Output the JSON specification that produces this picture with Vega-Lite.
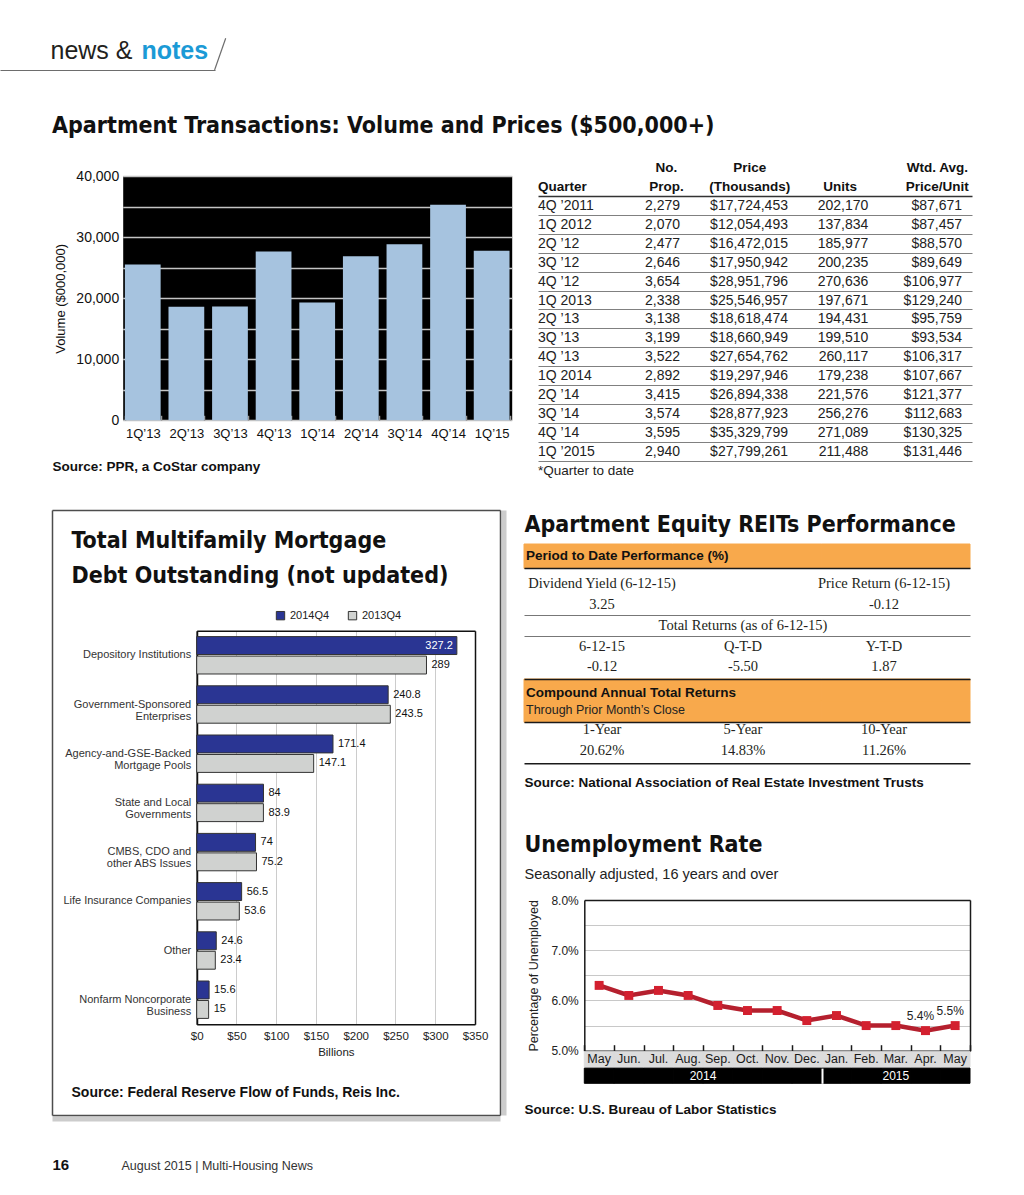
{
"$schema": "https://vega.github.io/schema/vega-lite/v6.json",
"width": 1024,
"height": 1195,
"autosize": {"type": "none"},
"padding": 0,
"background": "#ffffff",
"config": {
  "view": {"stroke": null},
  "font": "Liberation Sans",
  "text": {"font": "Liberation Sans"},
  "axis": {"labelFont": "Liberation Sans", "titleFont": "Liberation Sans", "grid": false, "labelFlush": false},
  "legend": {"labelFont": "Liberation Sans"},
  "title": {"font": "Liberation Sans"}
},
"title": {"text": "Apartment Transactions: Volume and Prices ($500,000+)", "anchor": "start", "frame": "group", "dx": 52, "offset": -156, "baseline": "alphabetic",
          "font": "DejaVu Sans Condensed, sans-serif", "fontSize": 23, "fontWeight": "bold", "color": "#111111"},
"datasets": {
  "one": [{"k": "a"}],
  "bar": [
    {"q": "1Q’13", "v": 25547}, {"q": "2Q’13", "v": 18618}, {"q": "3Q’13", "v": 18661},
    {"q": "4Q’13", "v": 27655}, {"q": "1Q’14", "v": 19298}, {"q": "2Q’14", "v": 26894},
    {"q": "3Q’14", "v": 28878}, {"q": "4Q’14", "v": 35330}, {"q": "1Q’15", "v": 27799}
  ],
  "tbl": [
    {"q": "4Q ’2011", "p": 2279, "pr": 17724453, "u": 202170, "w": 87671},
    {"q": "1Q 2012", "p": 2070, "pr": 12054493, "u": 137834, "w": 87457},
    {"q": "2Q ’12", "p": 2477, "pr": 16472015, "u": 185977, "w": 88570},
    {"q": "3Q ’12", "p": 2646, "pr": 17950942, "u": 200235, "w": 89649},
    {"q": "4Q ’12", "p": 3654, "pr": 28951796, "u": 270636, "w": 106977},
    {"q": "1Q 2013", "p": 2338, "pr": 25546957, "u": 197671, "w": 129240},
    {"q": "2Q ’13", "p": 3138, "pr": 18618474, "u": 194431, "w": 95759},
    {"q": "3Q ’13", "p": 3199, "pr": 18660949, "u": 199510, "w": 93534},
    {"q": "4Q ’13", "p": 3522, "pr": 27654762, "u": 260117, "w": 106317},
    {"q": "1Q 2014", "p": 2892, "pr": 19297946, "u": 179238, "w": 107667},
    {"q": "2Q ’14", "p": 3415, "pr": 26894338, "u": 221576, "w": 121377},
    {"q": "3Q ’14", "p": 3574, "pr": 28877923, "u": 256276, "w": 112683},
    {"q": "4Q ’14", "p": 3595, "pr": 35329799, "u": 271089, "w": 130325},
    {"q": "1Q ’2015", "p": 2940, "pr": 27799261, "u": 211488, "w": 131446}
  ],
  "tblh": [
    {"q": "h2", "c": "q", "t": "Quarter"},
    {"q": "h1", "c": "p", "t": "No."}, {"q": "h2", "c": "p", "t": "Prop."},
    {"q": "h1", "c": "pr", "t": "Price"}, {"q": "h2", "c": "pr", "t": "(Thousands)"},
    {"q": "h2", "c": "u", "t": "Units"},
    {"q": "h1", "c": "w", "t": "Wtd. Avg."}, {"q": "h2", "c": "w", "t": "Price/Unit"},
    {"q": "foot", "c": "q", "t": "*Quarter to date"}
  ],
  "mg": [
    {"cat": "Depository Institutions", "yr": "2014Q4", "v": 327.2},
    {"cat": "Depository Institutions", "yr": "2013Q4", "v": 289},
    {"cat": "Government-Sponsored|Enterprises", "yr": "2014Q4", "v": 240.8},
    {"cat": "Government-Sponsored|Enterprises", "yr": "2013Q4", "v": 243.5},
    {"cat": "Agency-and-GSE-Backed|Mortgage Pools", "yr": "2014Q4", "v": 171.4},
    {"cat": "Agency-and-GSE-Backed|Mortgage Pools", "yr": "2013Q4", "v": 147.1},
    {"cat": "State and Local|Governments", "yr": "2014Q4", "v": 84},
    {"cat": "State and Local|Governments", "yr": "2013Q4", "v": 83.9},
    {"cat": "CMBS, CDO and|other ABS Issues", "yr": "2014Q4", "v": 74},
    {"cat": "CMBS, CDO and|other ABS Issues", "yr": "2013Q4", "v": 75.2},
    {"cat": "Life Insurance Companies", "yr": "2014Q4", "v": 56.5},
    {"cat": "Life Insurance Companies", "yr": "2013Q4", "v": 53.6},
    {"cat": "Other", "yr": "2014Q4", "v": 24.6},
    {"cat": "Other", "yr": "2013Q4", "v": 23.4},
    {"cat": "Nonfarm Noncorporate|Business", "yr": "2014Q4", "v": 15.6},
    {"cat": "Nonfarm Noncorporate|Business", "yr": "2013Q4", "v": 15}
  ],
  "reits": [
    {"r": "h1", "c": "L", "k": "o1"}, {"r": "h1", "c": "M", "k": "o1"}, {"r": "h1", "c": "R", "k": "o1"},
    {"r": "a", "c": "L", "k": "o2"}, {"r": "a", "c": "M", "k": "o2"}, {"r": "a", "c": "R", "k": "o2"},
    {"r": "b", "c": "L", "k": "o2"}, {"r": "b", "c": "M", "k": "o2"}, {"r": "b", "c": "R", "k": "o2"},
    {"r": "h1", "c": "L", "k": "o1t", "t": "Period to Date Performance (%)"},
    {"r": "a", "c": "L", "k": "o2b", "t": "Compound Annual Total Returns"},
    {"r": "b", "c": "L", "k": "o2r", "t": "Through Prior Month’s Close"},
    {"r": "r1", "c": "L", "k": "s", "t": "Dividend Yield (6-12-15)"},
    {"r": "r1", "c": "R", "k": "s", "t": "Price Return (6-12-15)"},
    {"r": "r2", "c": "L", "k": "s", "t": "3.25"},
    {"r": "r2", "c": "R", "k": "s", "t": "-0.12"},
    {"r": "r3", "c": "M", "k": "s", "t": "Total Returns (as of 6-12-15)"},
    {"r": "r4", "c": "L", "k": "s", "t": "6-12-15"},
    {"r": "r4", "c": "M", "k": "s", "t": "Q-T-D"},
    {"r": "r4", "c": "R", "k": "s", "t": "Y-T-D"},
    {"r": "r5", "c": "L", "k": "s", "t": "-0.12"},
    {"r": "r5", "c": "M", "k": "s", "t": "-5.50"},
    {"r": "r5", "c": "R", "k": "s", "t": "1.87"},
    {"r": "r6", "c": "L", "k": "s", "t": "1-Year"},
    {"r": "r6", "c": "M", "k": "s", "t": "5-Year"},
    {"r": "r6", "c": "R", "k": "s", "t": "10-Year"},
    {"r": "r7", "c": "L", "k": "s", "t": "20.62%"},
    {"r": "r7", "c": "M", "k": "s", "t": "14.83%"},
    {"r": "r7", "c": "R", "k": "s", "t": "11.26%"}
  ],
  "unemp": [
    {"m": "2014-05", "lab": "May", "v": 0.063},
    {"m": "2014-06", "lab": "Jun.", "v": 0.061},
    {"m": "2014-07", "lab": "Jul.", "v": 0.062},
    {"m": "2014-08", "lab": "Aug.", "v": 0.061},
    {"m": "2014-09", "lab": "Sep.", "v": 0.059},
    {"m": "2014-10", "lab": "Oct.", "v": 0.058},
    {"m": "2014-11", "lab": "Nov.", "v": 0.058},
    {"m": "2014-12", "lab": "Dec.", "v": 0.056},
    {"m": "2015-01", "lab": "Jan.", "v": 0.057},
    {"m": "2015-02", "lab": "Feb.", "v": 0.055},
    {"m": "2015-03", "lab": "Mar.", "v": 0.055},
    {"m": "2015-04", "lab": "Apr.", "v": 0.054},
    {"m": "2015-05", "lab": "May", "v": 0.055}
  ]
},
"layer": [
  {"data": {"name": "one"},
   "mark": {"type": "text", "text": ""},
   "encoding": {
     "x": {"field": "k", "type": "nominal", "scale": {"type": "band", "range": [0, 215]},
           "axis": {"orient": "bottom", "offset": -1125, "labels": false, "ticks": false, "domain": true, "domainColor": "#6d6d6d", "domainWidth": 1.2,
                    "title": "news &", "titleX": 50, "titleY": -12, "titleAlign": "left", "titleAnchor": "start", "titleBaseline": "alphabetic",
                    "titleFontSize": 25, "titleFontWeight": "normal", "titleColor": "#231f20"}},
     "y": {"field": "k", "type": "nominal", "scale": {"type": "band", "range": [40, 70]},
           "axis": {"orient": "left", "offset": 0, "labels": false, "ticks": false, "domain": false,
                    "title": "notes", "titleAngle": 0, "titleX": 141, "titleY": 58, "titleAlign": "left", "titleAnchor": "start", "titleBaseline": "alphabetic",
                    "titleFontSize": 25, "titleFontWeight": "bold", "titleColor": "#1b9ad6"}}
   }},

  {"data": {"name": "one"},
   "mark": {"type": "rule", "color": "#6d6d6d", "strokeWidth": 1.2},
   "encoding": {
     "x": {"datum": 0, "type": "quantitative", "scale": {"domain": [0, 1], "range": [214.6, 225.7], "nice": false, "zero": false}, "axis": null},
     "y": {"datum": 0, "type": "quantitative", "scale": {"domain": [0, 1], "range": [70, 38.3], "nice": false, "zero": false}, "axis": null},
     "x2": {"datum": 1},
     "y2": {"datum": 1}
   }},

  {"data": {"name": "bar"},
   "layer": [
     {"mark": {"type": "bar", "opacity": 0},
      "encoding": {
        "x": {"field": "q", "type": "nominal", "sort": null, "scale": {"type": "band", "range": [122.7, 511.7], "paddingInner": 0.18, "paddingOuter": 0.05}, "axis": null},
        "y": {"field": "v", "type": "quantitative", "scale": {"domain": [0, 40000], "nice": false, "zero": false, "range": [420.3, 176.3]},
              "axis": {"orient": "left", "offset": -122.7, "values": [20000], "labels": false, "ticks": false, "domain": false, "title": null,
                       "grid": true, "gridColor": "#000000", "gridWidth": 244.2, "gridCap": "butt"}}}},
     {"mark": {"type": "bar", "color": "#a6c3df"},
      "encoding": {
        "x": {"field": "q", "type": "nominal", "sort": null, "scale": {"type": "band", "range": [122.7, 511.7], "paddingInner": 0.18, "paddingOuter": 0.05},
              "axis": {"orient": "bottom", "offset": -774.7, "labelAngle": 0, "labelFontSize": 13, "labelColor": "#111111", "labelPadding": 12, "domain": false,
                       "ticks": true, "tickBand": "extent", "tickSize": -5, "tickColor": "#9a9a9a", "tickWidth": 1.5,
                       "title": "Source: PPR, a CoStar company", "titleX": 52, "titleY": 45.7, "titleAlign": "left", "titleAnchor": "start",
                       "titleBaseline": "middle", "titleFontSize": 13.5, "titleFontWeight": "bold", "titleColor": "#111111"}},
        "y": {"field": "v", "type": "quantitative", "scale": {"domain": [0, 40000], "nice": false, "zero": false, "range": [420.3, 176.3]},
              "axis": {"orient": "left", "offset": -122.7, "values": [0, 5000, 10000, 15000, 20000, 25000, 30000, 35000, 40000],
                       "labelExpr": "datum.value % 10000 == 0 ? format(datum.value, ',') : ''",
                       "labelOverlap": false, "labelFontSize": 14, "labelColor": "#111111", "labelPadding": 4,
                       "ticks": false, "domain": false, "grid": true, "gridColor": "#c4c4c4", "gridWidth": 1.5,
                       "title": "Volume ($000,000)", "titleFontSize": 13, "titleFontWeight": "normal", "titleColor": "#111111", "titlePadding": 8}}}}
   ],
   "resolve": {"axis": {"y": "independent", "x": "independent"}}},

  {"data": {"name": "tbl"},
   "encoding": {
     "y": {"field": "q", "type": "nominal",
           "scale": {"type": "band", "range": [158.6, 480.3], "paddingInner": 0, "paddingOuter": 0,
                     "domain": ["h1", "h2", "4Q ’2011", "1Q 2012", "2Q ’12", "3Q ’12", "4Q ’12", "1Q 2013", "2Q ’13", "3Q ’13", "4Q ’13", "1Q 2014", "2Q ’14", "3Q ’14", "4Q ’14", "1Q ’2015", "foot"]},
           "axis": {"orient": "left", "offset": -538, "labels": false, "ticks": false, "domain": false, "title": null, "grid": true, "bandPosition": 0,
                    "gridOpacity": {"condition": {"test": "datum.value == 'h1' || datum.value == 'h2'", "value": 0}, "value": 1},
                    "gridColor": {"condition": {"test": "datum.value == '4Q ’2011'", "value": "#333333"}, "value": "#808080"},
                    "gridWidth": {"condition": {"test": "datum.value == '4Q ’2011'", "value": 1.5}, "value": 1}}}
   },
   "layer": [
     {"mark": {"type": "text", "align": "left", "fontSize": 14, "color": "#222222"},
      "encoding": {"x": {"datum": "q", "type": "nominal", "bandPosition": 0, "axis": null, "scale": {"type": "band", "domain": ["q", "p", "pr", "u", "w"], "range": [538, 972], "paddingInner": 0, "paddingOuter": 0}},
                   "text": {"field": "q", "type": "nominal"}}},
     {"mark": {"type": "text", "align": "right", "fontSize": 14, "color": "#222222"},
      "encoding": {"x": {"datum": "p", "type": "nominal", "bandPosition": 0.636, "axis": null, "scale": {"type": "band", "domain": ["q", "p", "pr", "u", "w"], "range": [538, 972], "paddingInner": 0, "paddingOuter": 0}},
                   "text": {"field": "p", "type": "quantitative", "format": ","}}},
     {"mark": {"type": "text", "align": "right", "fontSize": 14, "color": "#222222"},
      "encoding": {"x": {"datum": "pr", "type": "nominal", "bandPosition": 0.88, "axis": null, "scale": {"type": "band", "domain": ["q", "p", "pr", "u", "w"], "range": [538, 972], "paddingInner": 0, "paddingOuter": 0}},
                   "text": {"field": "pr", "type": "quantitative", "format": "$,"}}},
     {"mark": {"type": "text", "align": "right", "fontSize": 14, "color": "#222222"},
      "encoding": {"x": {"datum": "u", "type": "nominal", "bandPosition": 0.806, "axis": null, "scale": {"type": "band", "domain": ["q", "p", "pr", "u", "w"], "range": [538, 972], "paddingInner": 0, "paddingOuter": 0}},
                   "text": {"field": "u", "type": "quantitative", "format": ","}}},
     {"mark": {"type": "text", "align": "right", "fontSize": 14, "color": "#222222"},
      "encoding": {"x": {"datum": "w", "type": "nominal", "bandPosition": 0.885, "axis": null, "scale": {"type": "band", "domain": ["q", "p", "pr", "u", "w"], "range": [538, 972], "paddingInner": 0, "paddingOuter": 0}},
                   "text": {"field": "w", "type": "quantitative", "format": "$,"}}},
     {"data": {"name": "tblh"},
      "layer": [
        {"transform": [{"filter": "datum.c == 'q' && datum.q == 'h2'"}],
         "mark": {"type": "text", "align": "left", "fontSize": 13.5, "fontWeight": "bold", "color": "#111111"},
         "encoding": {"x": {"field": "c", "type": "nominal", "bandPosition": 0, "axis": null, "scale": {"type": "band", "domain": ["q", "p", "pr", "u", "w"], "range": [538, 972], "paddingInner": 0, "paddingOuter": 0}}, "text": {"field": "t"}}},
        {"transform": [{"filter": "datum.q == 'foot'"}],
         "mark": {"type": "text", "align": "left", "fontSize": 13.5, "color": "#222222"},
         "encoding": {"x": {"field": "c", "type": "nominal", "bandPosition": 0, "axis": null, "scale": {"type": "band", "domain": ["q", "p", "pr", "u", "w"], "range": [538, 972], "paddingInner": 0, "paddingOuter": 0}}, "text": {"field": "t"}}},
        {"transform": [{"filter": "datum.c == 'p' || datum.c == 'u'"}],
         "mark": {"type": "text", "align": "center", "fontSize": 13.5, "fontWeight": "bold", "color": "#111111"},
         "encoding": {"x": {"field": "c", "type": "nominal", "bandPosition": 0.48, "axis": null, "scale": {"type": "band", "domain": ["q", "p", "pr", "u", "w"], "range": [538, 972], "paddingInner": 0, "paddingOuter": 0}}, "text": {"field": "t"}}},
        {"transform": [{"filter": "datum.c == 'pr'"}],
         "mark": {"type": "text", "align": "center", "fontSize": 13.5, "fontWeight": "bold", "color": "#111111"},
         "encoding": {"x": {"field": "c", "type": "nominal", "bandPosition": 0.44, "axis": null, "scale": {"type": "band", "domain": ["q", "p", "pr", "u", "w"], "range": [538, 972], "paddingInner": 0, "paddingOuter": 0}}, "text": {"field": "t"}}},
        {"transform": [{"filter": "datum.c == 'w'"}],
         "mark": {"type": "text", "align": "center", "fontSize": 13.5, "fontWeight": "bold", "color": "#111111"},
         "encoding": {"x": {"field": "c", "type": "nominal", "bandPosition": 0.6, "axis": null, "scale": {"type": "band", "domain": ["q", "p", "pr", "u", "w"], "range": [538, 972], "paddingInner": 0, "paddingOuter": 0}}, "text": {"field": "t"}}}
      ]}
   ]},

  {"data": {"name": "one"},
   "layer": [
     {"mark": {"type": "text", "text": ""},
      "encoding": {
        "x": {"datum": 0, "type": "quantitative", "scale": {"domain": [0, 1], "range": [52, 500], "nice": false, "zero": false},
              "axis": {"orient": "bottom", "offset": -76.5, "labels": false, "ticks": false, "grid": false, "domain": true, "domainColor": "#cccccc", "domainWidth": 5, "title": null}},
        "y": {"datum": 0, "type": "quantitative", "scale": {"domain": [0, 1], "range": [1115, 510], "nice": false, "zero": false},
              "axis": {"orient": "right", "offset": -520.5, "labels": false, "ticks": false, "grid": false, "domain": true, "domainColor": "#cccccc", "domainWidth": 5, "title": null}}}},
     {"mark": {"type": "text", "text": ""},
      "encoding": {
        "x": {"datum": 0, "type": "quantitative", "scale": {"domain": [0, 1], "range": [52, 500], "nice": false, "zero": false},
              "axis": {"orient": "bottom", "offset": -80, "labels": false, "ticks": false, "grid": false, "domain": true, "domainColor": "#4d4d4d", "domainWidth": 1.5,
                       "title": "Source: Federal Reserve Flow of Funds, Reis Inc.", "titleX": 71, "titleY": -23, "titleAlign": "left", "titleAnchor": "start",
                       "titleBaseline": "middle", "titleFontSize": 14, "titleFontWeight": "bold", "titleColor": "#111111"}},
        "y": {"datum": 0, "type": "quantitative", "scale": {"domain": [0, 1], "range": [1115, 510], "nice": false, "zero": false},
              "axis": {"orient": "left", "offset": -52, "labels": false, "ticks": false, "grid": false, "domain": true, "domainColor": "#4d4d4d", "domainWidth": 1.5,
                       "title": ["Total Multifamily Mortgage", "Debt Outstanding (not updated)"], "titleAngle": 0, "titleX": 19, "titleY": 529, "titleAlign": "left", "titleAnchor": "start",
                       "titleBaseline": "top", "titleLineHeight": 35, "titleFont": "DejaVu Sans Condensed, sans-serif", "titleFontSize": 23, "titleFontWeight": "bold", "titleColor": "#111111"}}}},
     {"mark": {"type": "text", "text": ""},
      "encoding": {
        "x": {"datum": 0, "type": "quantitative", "scale": {"domain": [0, 1], "range": [52, 500], "nice": false, "zero": false},
              "axis": {"orient": "top", "offset": -510, "labels": false, "ticks": false, "grid": false, "domain": true, "domainColor": "#4d4d4d", "domainWidth": 1.5, "title": null}},
        "y": {"datum": 0, "type": "quantitative", "scale": {"domain": [0, 1], "range": [1115, 510], "nice": false, "zero": false},
              "axis": {"orient": "right", "offset": -524, "labels": false, "ticks": false, "grid": false, "domain": true, "domainColor": "#4d4d4d", "domainWidth": 1.5, "title": null}}}}
   ],
   "resolve": {"axis": {"x": "independent", "y": "independent"}}},

  {"data": {"name": "mg"},
   "encoding": {
     "y": {"field": "cat", "type": "nominal", "sort": null,
           "scale": {"type": "band", "range": [630.7, 1024.3], "paddingInner": 0.24, "paddingOuter": 0.12},
           "axis": {"orient": "left", "offset": -196.7, "labelExpr": "split(datum.value, '|')", "labelFontSize": 11, "labelColor": "#333333", "labelPadding": 6, "labelLineHeight": 12,
                    "ticks": false, "domain": true, "domainColor": "#111111", "domainWidth": 1.5, "title": null}},
     "yOffset": {"field": "yr", "type": "nominal", "scale": {"domain": ["2014Q4", "2013Q4"], "paddingInner": 0.08}}
   },
   "layer": [
     {"mark": {"type": "bar", "stroke": "#333333", "strokeWidth": 1},
      "encoding": {
        "x": {"field": "v", "type": "quantitative", "scale": {"domain": [0, 350], "nice": false, "zero": true, "range": [196.7, 475]},
              "axis": {"orient": "bottom", "offset": -170.7, "values": [0, 50, 100, 150, 200, 250, 300, 350], "labelExpr": "'$' + datum.value", "labelOverlap": false,
                       "grid": false, "ticks": false, "domain": true, "domainColor": "#111111", "domainWidth": 1.5,
                       "labelFontSize": 11.5, "labelColor": "#222222", "labelPadding": 6,
                       "title": "Billions", "titleFontSize": 11.5, "titleFontWeight": "normal", "titleColor": "#222222", "titlePadding": 5}},
        "color": {"field": "yr", "type": "nominal",
          "scale": {"domain": ["2014Q4", "2013Q4"], "range": ["#2a3593", "#d0d2d0"]},
          "legend": {"orient": "none", "legendX": 275, "legendY": 610, "direction": "horizontal", "title": null,
                     "symbolType": "square", "symbolSize": 70, "symbolStrokeColor": "#333333", "symbolStrokeWidth": 1,
                     "labelFontSize": 11, "labelColor": "#222222", "columnPadding": 16, "labelOffset": 4}}}},
     {"transform": [{"filter": "datum.v < 300"}],
      "mark": {"type": "text", "align": "left", "dx": 5, "fontSize": 11, "color": "#111111"},
      "encoding": {"x": {"field": "v", "type": "quantitative", "scale": {"domain": [0, 350], "nice": false, "zero": true, "range": [196.7, 475]}, "axis": null},
                   "text": {"field": "v", "type": "nominal"}}},
     {"transform": [{"filter": "datum.v >= 300"}],
      "mark": {"type": "text", "align": "right", "dx": -4, "fontSize": 11, "color": "#ffffff"},
      "encoding": {"x": {"field": "v", "type": "quantitative", "scale": {"domain": [0, 350], "nice": false, "zero": true, "range": [196.7, 475]},
                         "axis": {"orient": "top", "offset": -630.7, "values": [0, 50, 100, 150, 200, 250, 300, 350], "labels": false, "ticks": false, "domain": true, "domainColor": "#111111", "domainWidth": 1.5, "title": null,
                                  "grid": true,
                                  "gridColor": {"condition": {"test": "datum.value == 350 || datum.value == 0", "value": "#111111"}, "value": "#cccccc"},
                                  "gridWidth": {"condition": {"test": "datum.value == 350 || datum.value == 0", "value": 1.5}, "value": 1}}},
                   "text": {"field": "v", "type": "nominal"}}}
   ],
   "resolve": {"axis": {"x": "independent"}}},

  {"data": {"name": "reits"},
   "layer": [
     {"transform": [{"filter": "datum.k == 'o1'"}],
      "mark": {"type": "rect", "color": "#f8a94c", "stroke": "#f8a94c", "strokeWidth": 1},
      "encoding": {
        "x": {"field": "c", "type": "nominal", "axis": null, "scale": {"type": "band", "domain": ["L", "M", "R"], "range": [524, 970], "paddingInner": 0, "paddingOuter": 0}},
        "y": {"field": "r", "type": "nominal",
              "scale": {"type": "band", "domain": ["h1", "end"], "range": [544, 593], "paddingInner": 0, "paddingOuter": 0},
              "axis": {"orient": "left", "offset": -524, "zindex": 1, "labels": false, "ticks": false, "domain": false, "grid": true, "bandPosition": 0,
                       "gridOpacity": {"condition": {"test": "datum.value == 'end'", "value": 1}, "value": 0},
                       "gridColor": "#1a1a1a", "gridWidth": 1.6,
                       "title": "Apartment Equity REITs Performance", "titleAngle": 0, "titleX": 0, "titleY": 531.7, "titleAlign": "left", "titleAnchor": "start", "titleBaseline": "alphabetic",
                       "titleFont": "DejaVu Sans Condensed, sans-serif", "titleFontSize": 23, "titleFontWeight": "bold", "titleColor": "#111111"}}}},
     {"transform": [{"filter": "datum.k == 'o1t'"}],
      "mark": {"type": "text", "align": "left", "dx": 2, "fontSize": 13.5, "fontWeight": "bold", "color": "#111111"},
      "encoding": {
        "x": {"field": "c", "type": "nominal", "bandPosition": 0, "axis": null, "scale": {"type": "band", "domain": ["L", "M", "R"], "range": [524, 970], "paddingInner": 0, "paddingOuter": 0}},
        "y": {"field": "r", "type": "nominal", "axis": null, "scale": {"type": "band", "domain": ["h1", "end"], "range": [544, 593], "paddingInner": 0, "paddingOuter": 0}},
        "text": {"field": "t"}}},
     {"transform": [{"filter": "datum.k == 'o2'"}],
      "mark": {"type": "rect", "color": "#f8a94c", "stroke": "#f8a94c", "strokeWidth": 1},
      "encoding": {
        "x": {"field": "c", "type": "nominal", "axis": null, "scale": {"type": "band", "domain": ["L", "M", "R"], "range": [524, 970], "paddingInner": 0, "paddingOuter": 0}},
        "y": {"field": "r", "type": "nominal",
              "scale": {"type": "band", "domain": ["a", "b", "end"], "range": [679, 743.95], "paddingInner": 0, "paddingOuter": 0},
              "axis": {"orient": "left", "offset": -524, "zindex": 1, "labels": false, "ticks": false, "domain": false, "grid": true, "bandPosition": 0, "title": null,
                       "gridOpacity": {"condition": {"test": "datum.value == 'a' || datum.value == 'end'", "value": 1}, "value": 0},
                       "gridColor": "#1a1a1a", "gridWidth": 1.6}}}},
     {"transform": [{"filter": "datum.k == 'o2b'"}],
      "mark": {"type": "text", "align": "left", "dx": 2, "dy": 3, "fontSize": 13.5, "fontWeight": "bold", "color": "#111111"},
      "encoding": {
        "x": {"field": "c", "type": "nominal", "bandPosition": 0, "axis": null, "scale": {"type": "band", "domain": ["L", "M", "R"], "range": [524, 970], "paddingInner": 0, "paddingOuter": 0}},
        "y": {"field": "r", "type": "nominal", "axis": null, "scale": {"type": "band", "domain": ["a", "b", "end"], "range": [679, 743.95], "paddingInner": 0, "paddingOuter": 0}},
        "text": {"field": "t"}}},
     {"transform": [{"filter": "datum.k == 'o2r'"}],
      "mark": {"type": "text", "align": "left", "dx": 2, "dy": -1, "fontSize": 12.5, "color": "#222222"},
      "encoding": {
        "x": {"field": "c", "type": "nominal", "bandPosition": 0, "axis": null, "scale": {"type": "band", "domain": ["L", "M", "R"], "range": [524, 970], "paddingInner": 0, "paddingOuter": 0}},
        "y": {"field": "r", "type": "nominal", "axis": null, "scale": {"type": "band", "domain": ["a", "b", "end"], "range": [679, 743.95], "paddingInner": 0, "paddingOuter": 0}},
        "text": {"field": "t"}}},
     {"transform": [{"filter": "datum.k == 's' && datum.c == 'L'"}],
      "mark": {"type": "text", "font": "Liberation Serif", "fontSize": 14.5, "color": "#231f20"},
      "encoding": {
        "x": {"field": "c", "type": "nominal", "bandPosition": 0.525,
              "scale": {"type": "band", "domain": ["L", "M", "R"], "range": [524, 970], "paddingInner": 0, "paddingOuter": 0},
              "axis": {"orient": "bottom", "offset": -431.7, "labels": false, "ticks": false, "domain": true, "domainColor": "#1a1a1a", "domainWidth": 1.6, "grid": false,
                       "title": "Source: National Association of Real Estate Investment Trusts", "titleX": 524, "titleY": 19, "titleAlign": "left", "titleAnchor": "start",
                       "titleBaseline": "middle", "titleFontSize": 13.5, "titleFontWeight": "bold", "titleColor": "#111111"}},
        "y": {"field": "r", "type": "nominal",
              "scale": {"type": "band", "domain": ["r1", "r2", "r3", "r4", "r5", "x1", "x2", "r6", "r7"], "range": [573.575, 761.225], "paddingInner": 0, "paddingOuter": 0},
              "axis": {"orient": "left", "offset": -524, "zindex": 1, "labels": false, "ticks": false, "domain": false, "grid": true, "bandPosition": 0, "title": null,
                       "gridOpacity": {"condition": {"test": "datum.value == 'r3' || datum.value == 'r4'", "value": 1}, "value": 0},
                       "gridColor": "#777777", "gridWidth": 1}},
        "text": {"field": "t"}}},
     {"transform": [{"filter": "datum.k == 's' && datum.c == 'M'"}],
      "mark": {"type": "text", "font": "Liberation Serif", "fontSize": 14.5, "color": "#231f20"},
      "encoding": {
        "x": {"field": "c", "type": "nominal", "bandPosition": 0.473, "axis": null,
              "scale": {"type": "band", "domain": ["L", "M", "R"], "range": [524, 970], "paddingInner": 0, "paddingOuter": 0}},
        "y": {"field": "r", "type": "nominal", "axis": null,
              "scale": {"type": "band", "domain": ["r1", "r2", "r3", "r4", "r5", "x1", "x2", "r6", "r7"], "range": [573.575, 761.225], "paddingInner": 0, "paddingOuter": 0}},
        "text": {"field": "t"}}},
     {"transform": [{"filter": "datum.k == 's' && datum.c == 'R'"}],
      "mark": {"type": "text", "font": "Liberation Serif", "fontSize": 14.5, "color": "#231f20"},
      "encoding": {
        "x": {"field": "c", "type": "nominal", "bandPosition": 0.4215, "axis": null,
              "scale": {"type": "band", "domain": ["L", "M", "R"], "range": [524, 970], "paddingInner": 0, "paddingOuter": 0}},
        "y": {"field": "r", "type": "nominal", "axis": null,
              "scale": {"type": "band", "domain": ["r1", "r2", "r3", "r4", "r5", "x1", "x2", "r6", "r7"], "range": [573.575, 761.225], "paddingInner": 0, "paddingOuter": 0}},
        "text": {"field": "t"}}}
   ],
   "resolve": {"scale": {"y": "independent"}, "axis": {"x": "independent", "y": "independent"}}},

  {"data": {"name": "unemp"},
   "layer": [
     {"mark": {"type": "line", "color": "#b5202e", "strokeWidth": 4.5},
      "encoding": {
        "x": {"field": "m", "type": "nominal", "scale": {"type": "band", "range": [584.3, 970], "paddingInner": 0, "paddingOuter": 0},
              "axis": {"orient": "bottom", "offset": -144.3, "labels": false, "domain": true, "domainColor": "#1a1a1a", "domainWidth": 1.5,
                       "ticks": true, "tickBand": "extent", "tickSize": -6, "tickColor": "#1a1a1a", "tickWidth": 1.5,
                       "title": "Unemployment Rate", "titleX": 524, "titleY": -199, "titleAlign": "left", "titleAnchor": "start", "titleBaseline": "alphabetic",
                       "titleFont": "DejaVu Sans Condensed, sans-serif", "titleFontSize": 23, "titleFontWeight": "bold", "titleColor": "#111111"}},
        "y": {"field": "v", "type": "quantitative", "scale": {"domain": [0.05, 0.08], "nice": false, "zero": false, "range": [1050.7, 900]},
              "axis": {"orient": "left", "offset": -584.3, "values": [0.05, 0.055, 0.06, 0.065, 0.07, 0.075, 0.08],
                       "labelExpr": "round(datum.value * 1000) % 10 == 0 ? format(datum.value, '.1%') : ''",
                       "labelOverlap": false, "grid": true, "gridColor": "#c8c8c8", "gridWidth": 1.2, "ticks": false,
                       "domain": true, "domainColor": "#1a1a1a", "domainWidth": 1.5,
                       "labelFontSize": 12, "labelColor": "#222222", "labelPadding": 6,
                       "title": "Percentage of Unemployed", "titleFontSize": 12.5, "titleFontWeight": "normal", "titleColor": "#222222", "titlePadding": 10}}}},
     {"mark": {"type": "point", "shape": "square", "filled": true, "size": 80, "color": "#d3202f", "opacity": 1},
      "encoding": {
        "x": {"field": "m", "type": "nominal", "scale": {"type": "band", "range": [584.3, 970], "paddingInner": 0, "paddingOuter": 0}, "axis": null},
        "y": {"field": "v", "type": "quantitative", "scale": {"domain": [0.05, 0.08], "nice": false, "zero": false, "range": [1050.7, 900]}, "axis": null}}},
     {"transform": [{"filter": "datum.m >= '2015-04'"}],
      "mark": {"type": "text", "dy": -15, "dx": -5, "fontSize": 12, "color": "#222222"},
      "encoding": {
        "x": {"field": "m", "type": "nominal", "scale": {"type": "band", "range": [584.3, 970], "paddingInner": 0, "paddingOuter": 0},
              "axis": {"orient": "top", "offset": -900, "labels": false, "ticks": false, "domain": true, "domainColor": "#1a1a1a", "domainWidth": 1.5, "title": null}},
        "y": {"field": "v", "type": "quantitative", "scale": {"domain": [0.05, 0.08], "nice": false, "zero": false, "range": [1050.7, 900]},
              "axis": {"orient": "right", "offset": -54, "labels": false, "ticks": false, "grid": false, "domain": true, "domainColor": "#1a1a1a", "domainWidth": 1.5, "title": null}},
        "text": {"field": "v", "type": "quantitative", "format": ".1%"}}}
   ],
   "resolve": {"axis": {"x": "independent", "y": "independent"}}},

  {"layer": [
     {"data": {"name": "unemp"},
      "mark": {"type": "rect", "color": "#dcdcdc", "stroke": "#dcdcdc", "strokeWidth": 1},
      "encoding": {
        "x": {"field": "m", "type": "nominal", "axis": null, "scale": {"type": "band", "range": [584.3, 970], "paddingInner": 0, "paddingOuter": 0}},
        "y": {"datum": "month", "type": "nominal", "axis": null, "scale": {"type": "band", "domain": ["month", "year"], "range": [1051.7, 1083.3], "paddingInner": 0.073, "paddingOuter": 0}}}},
     {"data": {"name": "unemp"},
      "mark": {"type": "text", "fontSize": 12.5, "color": "#1a1a1a"},
      "encoding": {
        "x": {"field": "m", "type": "nominal", "axis": null, "scale": {"type": "band", "range": [584.3, 970], "paddingInner": 0, "paddingOuter": 0}},
        "y": {"datum": "month", "type": "nominal", "axis": null, "scale": {"type": "band", "domain": ["month", "year"], "range": [1051.7, 1083.3], "paddingInner": 0.073, "paddingOuter": 0}},
        "text": {"field": "lab"}}},
     {"data": {"name": "unemp"},
      "mark": {"type": "rect", "color": "#000000", "stroke": "#000000", "strokeWidth": 1},
      "encoding": {
        "x": {"field": "m", "type": "nominal", "scale": {"type": "band", "range": [584.3, 970], "paddingInner": 0, "paddingOuter": 0},
              "axis": {"orient": "bottom", "offset": -111.7, "zindex": 1, "labels": false, "domain": false, "ticks": true, "tickBand": "extent", "tickSize": -15.2, "tickColor": "#ffffff", "tickWidth": 2,
                       "tickOpacity": {"condition": {"test": "datum.value == '2014-12'", "value": 1}, "value": 0},
                       "title": "Source: U.S. Bureau of Labor Statistics", "titleX": 524, "titleY": 25.7, "titleAlign": "left", "titleAnchor": "start",
                       "titleBaseline": "middle", "titleFontSize": 13.5, "titleFontWeight": "bold", "titleColor": "#111111"}},
        "y": {"datum": "year", "type": "nominal", "scale": {"type": "band", "domain": ["month", "year"], "range": [1051.7, 1083.3], "paddingInner": 0.073, "paddingOuter": 0},
              "axis": {"orient": "left", "offset": -584.3, "labels": false, "ticks": false, "domain": false, "grid": false,
                       "title": "Seasonally adjusted, 16 years and over", "titleAngle": 0, "titleX": -60.3, "titleY": 878.3, "titleAlign": "left", "titleAnchor": "start", "titleBaseline": "alphabetic",
                       "titleFontSize": 14.5, "titleFontWeight": "normal", "titleColor": "#222222"}}}},
     {"data": {"values": [{"m": "2014-08", "t": "2014"}]},
      "mark": {"type": "text", "color": "#ffffff", "fontSize": 12},
      "encoding": {
        "x": {"field": "m", "type": "nominal", "bandPosition": 1, "axis": null, "scale": {"type": "band", "range": [584.3, 970], "paddingInner": 0, "paddingOuter": 0}},
        "y": {"datum": "year", "type": "nominal", "axis": null, "scale": {"type": "band", "domain": ["month", "year"], "range": [1051.7, 1083.3], "paddingInner": 0.073, "paddingOuter": 0}},
        "text": {"field": "t"}}},
     {"data": {"values": [{"m": "2015-03", "t": "2015"}]},
      "mark": {"type": "text", "color": "#ffffff", "fontSize": 12},
      "encoding": {
        "x": {"field": "m", "type": "nominal", "axis": null, "scale": {"type": "band", "range": [584.3, 970], "paddingInner": 0, "paddingOuter": 0}},
        "y": {"datum": "year", "type": "nominal", "axis": null, "scale": {"type": "band", "domain": ["month", "year"], "range": [1051.7, 1083.3], "paddingInner": 0.073, "paddingOuter": 0}},
        "text": {"field": "t"}}}
   ],
   "resolve": {"axis": {"x": "independent", "y": "independent"}}},

  {"data": {"name": "one"},
   "mark": {"type": "text", "text": ""},
   "encoding": {
     "x": {"field": "k", "type": "nominal", "scale": {"type": "band", "range": [52, 500]},
           "axis": {"orient": "bottom", "offset": -25, "labels": false, "ticks": false, "domain": false,
                    "title": "16", "titleX": 52, "titleY": -1, "titleAlign": "left", "titleAnchor": "start", "titleBaseline": "alphabetic",
                    "titleFontSize": 15, "titleFontWeight": "bold", "titleColor": "#111111"}},
     "y": {"field": "k", "type": "nominal", "scale": {"type": "band", "range": [1150, 1170]},
           "axis": {"orient": "left", "offset": -52, "labels": false, "ticks": false, "domain": false,
                    "title": "August 2015  |  Multi-Housing News", "titleAngle": 0, "titleX": 69, "titleY": 1169, "titleAlign": "left", "titleAnchor": "start", "titleBaseline": "alphabetic",
                    "titleFontSize": 12.5, "titleFontWeight": "normal", "titleColor": "#333333"}}
   }}
],
"resolve": {"scale": {"x": "independent", "y": "independent", "color": "independent"}, "axis": {"x": "independent", "y": "independent"}, "legend": {"color": "independent"}}
}
